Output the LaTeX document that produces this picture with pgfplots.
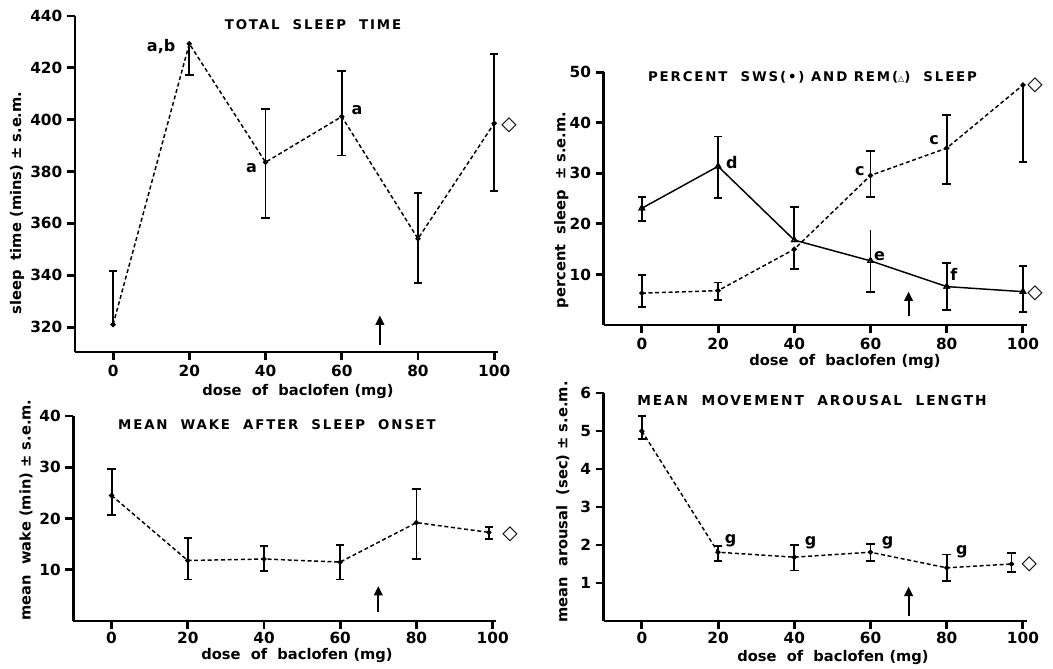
\documentclass[border=0pt]{standalone}
\usepackage{fontspec}
\setmainfont{DejaVu Sans}
\setsansfont{DejaVu Sans}
\newfontfamily\ttlfont[LetterSpace=14]{DejaVu Sans}
\usepackage{pgfplots}
\pgfplotsset{compat=1.18}
\usetikzlibrary{arrows.meta}
\newcommand{\tb}[1]{\textbf{#1}}
\pgfplotsset{
 myax/.style={scale only axis, width=317.25pt, axis lines=left,
   axis line style={-, line width=2.2pt},
   xmin=-10, xmax=101, xtick={0,20,...,100},
   xticklabels={\tb{0},\tb{20},\tb{40},\tb{60},\tb{80},\tb{100}},
   tick align=outside, major tick length=6pt,
   tick style={line width=2.2pt, black},
   tick label style={font=\mathversion{bold}\bfseries\fontsize{11.5}{13}\selectfont},
   clip=false, anchor=south west},
 dline/.style={black, line width=1.1pt, dash pattern=on 3pt off 2pt, mark=*, mark size=1.4pt, mark options={solid}},
 sline/.style={black, line width=1.1pt, mark=triangle, mark size=2.4pt, mark options={solid, fill=white, line width=0.8pt}},
 eb/.style={only marks, mark=*, mark size=1.2pt, black, forget plot, error bars/.cd, y dir=#1, y explicit,
   error mark=none, error bar style={line width=1.4pt, draw=black, solid}},
 cap/.style={only marks, mark=-, mark size=3.2pt, black, line width=1.4pt, forget plot, mark options={solid}}
}
\tikzset{
 ann/.style={font=\bfseries\fontsize{12}{14}\selectfont},
 dia/.style={font=\fontsize{15}{15}\selectfont},
 arr/.style={line width=1.4pt, -{Triangle[length=7pt,width=6.5pt]}}
}
\begin{document}
\begin{tikzpicture}
\useasboundingbox (0,0) rectangle (789.75pt,-501pt);
% ---------- Panel 1
\begin{axis}[myax, at={(56.25pt,-264pt)}, height=252pt, ymin=310.4, ymax=440,
  ytick={320,340,...,440}, yticklabels={\tb{320},\tb{340},\tb{360},\tb{380},\tb{400},\tb{420},\tb{440}}]
\addplot[dline] coordinates {(0,321) (20,429.3) (40,383.6) (60,401.2) (80,354.1) (100,398.6)};
\addplot[eb=both] coordinates {(40,383.6) += (0,20.5) -= (0,21.4) (60,401.2) += (0,17.6) -= (0,15) (80,354.1) += (0,17.6) -= (0,17.1) (100,398.6) += (0,26.9) -= (0,26.2)};
\addplot[eb=plus] coordinates {(0,321) +- (0,20.5)};
\addplot[eb=minus] coordinates {(20,429.3) +- (0,12)};
\addplot[cap] coordinates {(0,341.5) (20,417.3) (40,404.1) (40,362.2) (60,418.8) (60,386.2) (80,371.7) (80,337) (100,425.5) (100,372.4)};
\node[ann] at (axis cs:12.6,428.3) {a,b};
\node[ann] at (axis cs:36.3,381.4) {a};
\node[ann] at (axis cs:64.0,403.7) {a};
\node[dia] at (axis cs:103.9,398) {◇};
\draw[arr] (axis cs:70,313) -- (axis cs:70,324.5);
\end{axis}
% ---------- Panel 2
\begin{axis}[myax, at={(452.8pt,-243.75pt)}, height=189.5pt, ymin=0, ymax=50,
  ytick={10,20,...,50}, yticklabels={\tb{10},\tb{20},\tb{30},\tb{40},\tb{50}}]
\addplot[dline] coordinates {(0,6.3) (20,6.8) (40,15.0) (60,29.6) (80,35.0) (100,47.5)};
\addplot[eb=both] coordinates {(0,6.3) += (0,3.6) -= (0,2.8) (20,6.8) += (0,1.6) -= (0,1.8) (60,29.6) += (0,4.8) -= (0,4.3) (80,35.0) += (0,6.6) -= (0,7.1)};
\addplot[eb=minus] coordinates {(40,15.0) +- (0,4.0) (100,47.5) +- (0,15.3)};
\addplot[cap] coordinates {(0,9.9) (0,3.5) (20,8.4) (20,5.0) (40,11.0) (60,34.4) (60,25.3) (80,41.6) (80,27.9) (100,32.2)};
\addplot[sline] coordinates {(0,23.1) (20,31.4) (40,16.8) (60,12.7) (80,7.6) (100,6.6)};
\addplot[eb=both, /tikz/mark size=0.2pt] coordinates {(0,23.1) += (0,2.3) -= (0,2.5) (20,31.4) += (0,5.9) -= (0,6.2) (60,12.7) += (0,6.1) -= (0,6.1) (80,7.6) += (0,4.7) -= (0,4.6) (100,6.6) += (0,5.0) -= (0,4.0)};
\addplot[eb=plus, /tikz/mark size=0.2pt] coordinates {(40,16.8) +- (0,6.6)};
\addplot[cap] coordinates {(0,25.4) (0,20.6) (20,37.3) (20,25.2) (40,23.4) (60,6.6) (80,12.3) (80,3.0) (100,11.6) (100,2.6)};
\addplot[sline, only marks, forget plot] coordinates {(0,23.1) (20,31.4) (40,16.8) (60,12.7) (80,7.6) (100,6.6)};
\node[ann] at (axis cs:23.6,32.2) {d};
\node[ann] at (axis cs:57.2,30.4) {c};
\node[ann] at (axis cs:76.7,36.6) {c};
\node[ann] at (axis cs:62.4,13.7) {e};
\node[ann] at (axis cs:81.9,10.0) {f};
\node[dia] at (axis cs:103.2,47.5) {◇};
\node[dia] at (axis cs:103.2,6.3) {◇};
\draw[arr] (axis cs:70,1.8) -- (axis cs:70,6.6);
\end{axis}
% ---------- Panel 3
\begin{axis}[myax, at={(55.1pt,-465.75pt)}, height=153.75pt, ymin=0, ymax=40,
  ytick={10,20,30,40}, yticklabels={\tb{10},\tb{20},\tb{30},\tb{40}},
  xticklabel style={yshift=1.5pt}]
\addplot[dline] coordinates {(0,24.5) (20,11.8) (40,12.1) (60,11.5) (80,19.2) (99,17.3)};
\addplot[eb=both] coordinates {(0,24.5) += (0,5.1) -= (0,3.8) (20,11.8) += (0,4.4) -= (0,3.7) (40,12.1) += (0,2.5) -= (0,2.4) (60,11.5) += (0,3.4) -= (0,3.4) (80,19.2) += (0,6.6) -= (0,7.1) (99,17.3) += (0,1.1) -= (0,1.3)};
\addplot[cap] coordinates {(0,29.6) (0,20.7) (20,16.2) (20,8.1) (40,14.6) (40,9.7) (60,14.9) (60,8.1) (80,25.8) (80,12.1) (99,18.4) (99,16.0)};
\node[dia] at (axis cs:104.6,16.9) {◇};
\draw[arr] (axis cs:70,1.8) -- (axis cs:70,6.8);
\end{axis}
% ---------- Panel 4
\begin{axis}[myax, at={(452.8pt,-465.75pt)}, height=171pt, ymin=0, ymax=6,
  ytick={1,2,...,6}, yticklabels={\tb{1},\tb{2},\tb{3},\tb{4},\tb{5},\tb{6}},
  xticklabel style={yshift=1.5pt}]
\addplot[dline] coordinates {(0,5.0) (20,1.81) (40,1.68) (60,1.81) (80,1.4) (97,1.5)};
\addplot[eb=both] coordinates {(0,5.0) += (0,0.4) -= (0,0.2) (20,1.81) += (0,0.16) -= (0,0.22) (40,1.68) += (0,0.32) -= (0,0.35) (60,1.81) += (0,0.22) -= (0,0.22) (80,1.4) += (0,0.35) -= (0,0.35) (97,1.5) += (0,0.29) -= (0,0.21)};
\addplot[cap] coordinates {(0,5.4) (0,4.8) (20,1.97) (20,1.59) (40,2.0) (40,1.33) (60,2.03) (60,1.59) (80,1.75) (80,1.05) (97,1.79) (97,1.29)};
\node[ann] at (axis cs:23.3,2.1) {g};
\node[ann] at (axis cs:44.3,2.07) {g};
\node[ann] at (axis cs:64.5,2.07) {g};
\node[ann] at (axis cs:84.0,1.81) {g};
\node[dia] at (axis cs:101.7,1.5) {◇};
\draw[arr] (axis cs:70,0.12) -- (axis cs:70,0.9);
\end{axis}
% ---------- titles and labels
\begin{scope}[every node/.style={font=\bfseries\fontsize{11}{13}\selectfont}]
\node[font=\bfseries\fontsize{10}{12}\selectfont] at (234.75pt,-18.75pt) {\ttlfont\bfseries TOTAL\ \ SLEEP\ \ TIME};
\node[font=\bfseries\fontsize{10}{12}\selectfont] at (609.4pt,-57.75pt) {\ttlfont\bfseries PERCENT\ \ SWS(•)\ AND\ REM({\fontsize{6}{6}\selectfont △})\ \ SLEEP};
\node[font=\bfseries\fontsize{10}{12}\selectfont] at (207.75pt,-318.75pt) {\ttlfont\bfseries MEAN\ \ WAKE\ \ AFTER\ \ SLEEP\ \ ONSET};
\node[font=\bfseries\fontsize{10.3}{12}\selectfont] at (609pt,-300pt) {\ttlfont\bfseries MEAN\ \ MOVEMENT\ \ AROUSAL\ \ LENGTH};
\node at (223.5pt,-293.5pt) {dose\ \ of\ \ baclofen (mg)};
\node at (633.75pt,-271pt) {dose\ \ of\ \ baclofen (mg)};
\node at (222.75pt,-491.5pt) {dose\ \ of\ \ baclofen (mg)};
\node at (624.75pt,-493.5pt) {dose\ \ of\ \ baclofen (mg)};
\node[rotate=90] at (12.75pt,-152.25pt) {sleep\ \ time (mins) ± s.e.m.};
\node[rotate=90] at (421pt,-157.5pt) {percent\ \ sleep\ \ ± s.e.m.};
\node[rotate=90] at (19.5pt,-382.5pt) {mean\ \ wake (min) ± s.e.m.};
\node[rotate=90] at (422pt,-376.5pt) {mean\ \ arousal\ \ (sec) ± s.e.m.};
\end{scope}
\end{tikzpicture}
\end{document}
